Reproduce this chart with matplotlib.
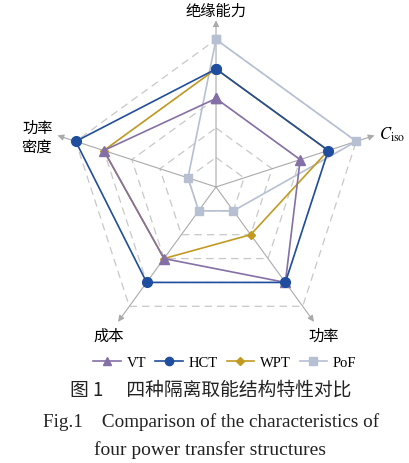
import numpy as np
import matplotlib.pyplot as plt

plt.rcParams['font.family'] = ['Liberation Serif', 'Noto Sans CJK SC', 'DejaVu Sans']
plt.rcParams['mathtext.fontset'] = 'stix'

# axes: 绝缘能力, C_iso, 功率, 成本, 功率密度 (clockwise from top)
axis_labels = ['绝缘能力', r'$C_{\mathrm{iso}}$', '功率', '成本', '功率\n密度']
series_names = ['VT', 'HCT', 'WPT', 'PoF']
vt = [3, 3, 4, 3, 4]
hct = [4, 4, 4, 4, 5]
wpt = [4, 4, 2, 3, 4]
pof = [5, 5, 1, 1, 1]
levels = [1, 2, 3, 4, 5]

colors = {'VT': '#8470a6', 'HCT': '#1f4e9e', 'WPT': '#c29a22', 'PoF': '#b7bfd3'}
markers = {'VT': '^', 'HCT': 'o', 'WPT': 'D', 'PoF': 's'}
msizes = {'VT': 7, 'HCT': 7, 'WPT': 4.5, 'PoF': 6}
zorders = {'PoF': 3, 'WPT': 4, 'VT': 5, 'HCT': 6}
values = {'VT': vt, 'HCT': hct, 'WPT': wpt, 'PoF': pof}

n = len(axis_labels)
theta = np.arange(n) * 2 * np.pi / n
theta_c = np.append(theta, theta[0])

fig = plt.figure(figsize=(4.09, 4.64), dpi=100)
ax = fig.add_axes([0.0954, 0.2134, 0.8655, 0.763], projection='polar')
ax.set_theta_offset(np.pi / 2)
ax.set_theta_direction(-1)
ax.set_ylim(0, 6)
ax.grid(False)
ax.set_xticks([])
ax.set_yticks([])
ax.spines['polar'].set_visible(False)
ax.patch.set_alpha(0)

# dashed grid pentagons
for lv in levels:
    ax.plot(theta_c, [lv] * (n + 1), color='#c8c8c8', lw=0.9, ls=(0, (6, 4)), zorder=1)

# axis arrows
for t in theta:
    ax.annotate('', xy=(t, 5.65), xytext=(t, 0),
                arrowprops=dict(arrowstyle='-|>', color='#aaaaaa', lw=0.8,
                                shrinkA=0, shrinkB=0, mutation_scale=9),
                zorder=2)

handles = []
for name in series_names:
    v = values[name]
    h, = ax.plot(theta_c, v + v[:1], color=colors[name], lw=1.2,
                 marker=markers[name], ms=msizes[name], zorder=zorders[name],
                 clip_on=False)
    handles.append(h)

# axis labels
ax.text(theta[0], 6.0, axis_labels[0], ha='center', va='center', fontsize=11,
        family=['Noto Sans CJK SC'])
ax.text(theta[1], 5.8, axis_labels[1], ha='left', va='center', fontsize=12)
ax.text(theta[2], 6.2, axis_labels[2], ha='center', va='center', fontsize=11,
        family=['Noto Sans CJK SC'])
ax.text(theta[3], 6.2, axis_labels[3], ha='center', va='center', fontsize=11,
        family=['Noto Sans CJK SC'])
ax.text(np.deg2rad(285.8), 6.3, axis_labels[4], ha='center', va='center', fontsize=11,
        family=['Noto Sans CJK SC'], linespacing=1.15)

fig.legend(handles, series_names, loc='center', bbox_to_anchor=(0.55, 0.216),
           ncol=4, frameon=False, fontsize=10.5, handlelength=1.9,
           handletextpad=0.4, columnspacing=0.6, markerscale=0.85)

fig.text(0.515, 0.159, '图 1　 四种隔离取能结构特性对比', ha='center', va='center',
         fontsize=13.5, family=['Noto Sans CJK SC'], color='#222222')
fig.text(0.515, 0.0905, 'Fig.1    Comparison of the characteristics of', ha='center',
         va='center', fontsize=13.8, color='#222222')
fig.text(0.513, 0.030, 'four power transfer structures', ha='center', va='center',
         fontsize=14, color='#222222')

fig.savefig('out.png', dpi=100)
